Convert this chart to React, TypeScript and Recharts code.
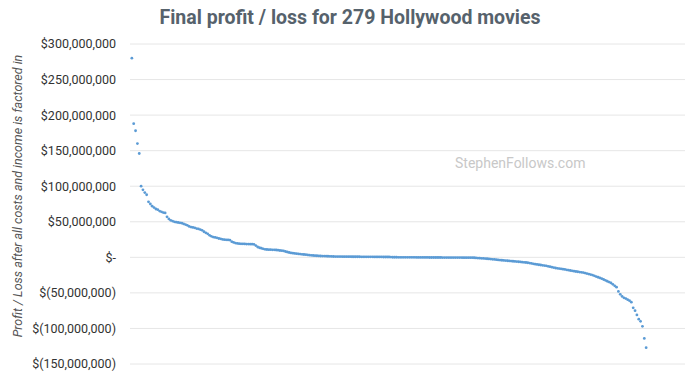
import React from "react";
import { ScatterChart, Scatter, XAxis, YAxis, CartesianGrid } from "recharts";

// profit / loss per movie, in millions of dollars, sorted high to low
const profitLoss = [
  280, 188, 178, 160, 146, 100, 95, 91, 88, 78,
  75, 72, 70, 68, 67, 65, 64, 63, 62.5, 57,
  54, 52, 51, 50, 49.5, 49, 48.5, 48, 47, 46,
  45, 43.5, 42.5, 42, 41.5, 40.5, 40, 39, 38, 36,
  34.5, 33, 31, 29.5, 28.5, 28, 27.5, 26.5, 26, 25.2,
  24.8, 24.6, 24.5, 24.2, 22, 21, 20, 19.5, 19.2, 19,
  19, 18.8, 18.7, 18.6, 18.5, 18.5, 18.3, 16.5, 14.5, 13.5,
  12.8, 12, 11.2, 11, 10.8, 10.7, 10.6, 10.5, 10.3, 10,
  9.6, 9.3, 9, 8.2, 7.5, 6.8, 6.2, 5.8, 5.5, 5.1,
  4.9, 4.6, 4.3, 4, 3.7, 3.4, 3.1, 2.8, 2.6, 2.4,
  2.2, 2.0, 1.9, 1.8, 1.7, 1.6, 1.5, 1.4, 1.3, 1.2,
  1.1, 1.0, 1.0, 1.0, 0.95, 0.95, 0.9, 0.9, 0.9, 0.85,
  0.85, 0.8, 0.8, 0.8, 0.75, 0.75, 0.7, 0.7, 0.7, 0.65,
  0.65, 0.6, 0.6, 0.6, 0.55, 0.55, 0.5, 0.5, 0.5, 0.45,
  0.4, 0.1, 0.1, 0.1, 0.05, 0.05, 0.05, 0, 0, 0,
  0, -0.05, -0.05, -0.05, -0.1, -0.1, -0.1, -0.1, -0.15, -0.15,
  -0.15, -0.2, -0.2, -0.2, -0.2, -0.25, -0.25, -0.25, -0.3, -0.3,
  -0.3, -0.3, -0.35, -0.35, -0.35, -0.4, -0.4, -0.4, -0.4, -0.45,
  -0.45, -0.45, -0.5, -0.5, -0.5, -0.6, -0.8, -1.0, -1.2, -1.4,
  -1.6, -1.8, -2.0, -2.3, -2.5, -2.8, -3.0, -3.3, -3.6, -3.8,
  -4.1, -4.3, -4.6, -4.8, -5.0, -5.3, -5.5, -5.8, -6.0, -6.2,
  -6.5, -6.8, -7.0, -7.3, -7.6, -8.1, -8.6, -9.1, -9.6, -10,
  -10.4, -10.8, -11.2, -11.6, -12, -12.6, -13.2, -13.8, -14.4, -15,
  -15.4, -15.8, -16.2, -16.6, -17, -17.5, -18, -18.5, -19, -19.5,
  -19.9, -20.3, -20.7, -21.1, -21.5, -22.2, -22.9, -23.6, -24.3, -25,
  -26, -27, -28, -29, -30, -31.2, -32.4, -33.6, -34.8, -36,
  -38, -40, -42, -48, -52, -55, -57, -58, -59.5, -61,
  -63, -71, -75, -81, -87, -90, -97, -114, -127,
];

const yTicks = [-150, -100, -50, 0, 50, 100, 150, 200, 250, 300];

const data = profitLoss.map((v, i) => ({ rank: i + 1, value: v }));

function fmtTick(v: number) {
  if (v === 0) return "$-";
  const s = (Math.abs(v) * 1000000).toLocaleString("en-US");
  return v < 0 ? `$(${s})` : `$${s}`;
}

const Dot = (props: any) => (
  <circle cx={props.cx} cy={props.cy} r={1.4} fill="#5b9bd5" />
);

export default function App() {
  return (
    <div style={{ position: "absolute", left: 0, top: 0, width: 700, height: 383, background: "#fff" }}>
      <ScatterChart
        width={700}
        height={383}
        margin={{ top: 44, right: 15, bottom: 19, left: 0 }}
      >
        <CartesianGrid vertical={false} stroke="#e6e6e6" strokeWidth={1} />
        <XAxis type="number" dataKey="rank" domain={[0, 300]} hide />
        <YAxis
          type="number"
          dataKey="value"
          domain={[-150, 300]}
          ticks={yTicks}
          width={130}
          axisLine={false}
          tickLine={false}
          tickSize={0}
          tickMargin={14}
          tickFormatter={fmtTick}
          tick={{ fill: "#333", fontSize: 12.5, fontFamily: "Roboto" }}
        />
        <Scatter data={data} shape={Dot} isAnimationActive={false} />
      </ScatterChart>
      <svg
        width={700}
        height={383}
        style={{ position: "absolute", left: 0, top: 0, pointerEvents: "none" }}
      >
        <text
          x={350}
          y={24}
          textAnchor="middle"
          fontFamily="Roboto"
          fontWeight="bold"
          fontSize={20}
          fill="#56626c"
          textLength={381}
          lengthAdjust="spacingAndGlyphs"
        >
          Final profit / loss for 279 Hollywood movies
        </text>
        <text
          transform="translate(22,196) rotate(-90)"
          textAnchor="middle"
          fontFamily="Roboto"
          fontStyle="italic"
          fontSize={12.5}
          fill="#555"
        >
          Profit / Loss after all costs and income is factored in
        </text>
        <text x={455} y={168} fontFamily="Roboto" fontSize={14} fill="#c8c8c8">
          StephenFollows.com
        </text>
      </svg>
    </div>
  );
}
